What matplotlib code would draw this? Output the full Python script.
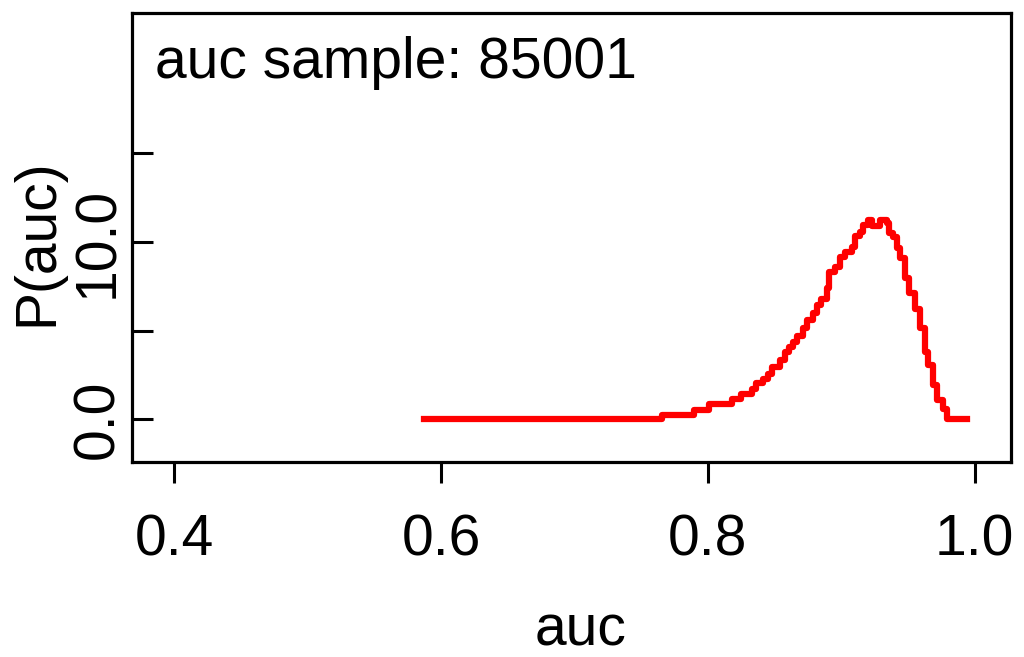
import matplotlib
matplotlib.use("Agg")
import matplotlib.pyplot as plt
from matplotlib.transforms import Bbox, TransformedBbox

plt.rcParams["font.family"] = ["Liberation Sans", "DejaVu Sans"]

# step density (left edge of each step, height)
auc_x = [0.587, 0.7655, 0.790, 0.801, 0.818, 0.825, 0.833, 0.836, 0.841, 0.845,
         0.848, 0.854, 0.858, 0.861, 0.864, 0.867, 0.871, 0.874, 0.879, 0.882,
         0.885, 0.889, 0.891, 0.895, 0.899, 0.903, 0.908, 0.910, 0.914, 0.916,
         0.920, 0.923, 0.929, 0.934, 0.936, 0.939, 0.942, 0.944, 0.948, 0.951,
         0.955, 0.959, 0.963, 0.965, 0.969, 0.972, 0.976, 0.979, 0.994]
p_auc = [0.0, 0.27, 0.55, 0.87, 1.13, 1.45, 1.73, 2.05, 2.30, 2.58,
         2.95, 3.33, 3.80, 4.08, 4.37, 4.69, 5.12, 5.59, 5.97, 6.44,
         6.76, 7.38, 8.32, 8.60, 9.17, 9.45, 9.73, 10.34, 10.58, 10.96,
         11.24, 10.90, 11.24, 11.06, 10.49, 10.30, 9.64, 9.08, 7.95, 7.10,
         6.20, 5.12, 3.80, 3.05, 1.92, 1.07, 0.60, 0.0, 0.0]

x_ticks = [0.4, 0.6, 0.8, 1.0]
x_labels = ["0.4", "0.6", "0.8", "1.0"]
y_ticks = [0, 5, 10, 15]
y_labels = ["0.0", "", "10.0", ""]
n_sample = 85001

fs = 41
fig = plt.figure(figsize=(10.24, 6.57), dpi=100)
ax = fig.add_axes([0.129, 0.297, 0.858, 0.683])

ax.step(auc_x, p_auc, where="post", color="red", linewidth=4.5)

ax.set_xlim(0.3685, 1.027)
ax.set_ylim(-2.4, 22.9)
ax.set_xticks(x_ticks)
ax.set_xticklabels(x_labels)
ax.set_yticks(y_ticks)
ax.set_yticklabels(y_labels, rotation=90, va="center")

for s in ax.spines.values():
    s.set_linewidth(2.3)
ax.tick_params(axis="x", direction="out", length=15, width=2.2, labelsize=fs, pad=22)
ax.tick_params(axis="y", direction="in", length=15, width=2.2, labelsize=fs, pad=5)

# the original is cut off just right of the frame
clip = TransformedBbox(Bbox([[0, 0], [1012 / 1024, 1]]), fig.transFigure)
for lbl in ax.get_xticklabels():
    lbl.set_clip_on(True)
    lbl.set_clip_box(clip)

ax.set_xlabel("auc", fontsize=fs)
ax.xaxis.set_label_coords(0.51, -0.316)
ax.set_ylabel("P(auc)", fontsize=fs)
ax.yaxis.set_label_coords(-0.077, 0.49)

ax.text(0.026, 0.855, "auc sample: " + str(n_sample), transform=ax.transAxes,
        fontsize=fs, ha="left", va="baseline")

fig.savefig("out.png", dpi=100)
